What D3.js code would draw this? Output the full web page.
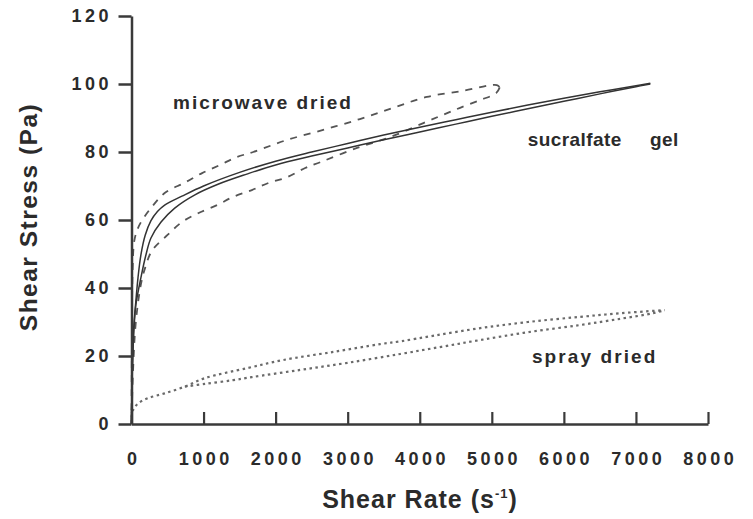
<!DOCTYPE html>
<html><head><meta charset="utf-8">
<script src="https://cdn.jsdelivr.net/npm/d3@7"></script>
<style>
body{margin:0;background:#fff;}
text{font-family:"Liberation Sans",Arial,Helvetica,sans-serif;font-weight:bold;fill:#2b2b2b;}
</style></head>
<body><svg id="c" width="753" height="519"></svg>
<script>
// ---- data ----
const xTicks = [0,1000,2000,3000,4000,5000,6000,7000,8000];
const yTicks = [0,20,40,60,80,100,120];

const gelA_x = [0,10,30,60,90,130,190,270,360,460,700,1000,1500,2000,2500,3000,3500,4000,4500,5000,5500,6000,6500,7000,7200];
const gelA_y = [0,15,28,36,43,49.7,55.5,59.8,62.5,64.4,67,70,74,77.3,80,82.5,85,87.3,89.5,91.7,93.8,95.8,97.7,99.5,100.2];
const gelB_x = [0,15,40,60,130,200,270,410,600,880,1200,1600,2000,2500,3000,3500,4000,4500,5000,5500,6000,6500,7000,7200];
const gelB_y = [0,18,30,35,43,49.7,54.7,59.4,63.5,67.4,70.5,73.5,76.2,78.8,81.2,83.6,85.9,88.2,90.5,92.7,94.9,97.1,99.2,100];

const mwUp_x = [0,5,15,40,90,150,270,465,740,980,1230,1460,1690,2150,2660,3170,3630,4100,4600,5070,5110];
const mwUp_y = [0,20,45,54,57.6,60,63.5,68,71,73.8,76.2,78.5,80,83.5,86.5,89.7,93,96.2,98,99.7,99];
const mwDown_x = [5110,5060,4840,4560,4330,4050,3590,3130,2620,2410,2160,1900,1670,1410,1190,925,700,500,285,190,130,60,20,0];
const mwDown_y = [99,97.3,95.3,93,91,88.5,84.4,81.2,77,75.3,72.6,70.9,68.8,66.8,64.4,62,59.4,55.6,51,46,41,30,15,0];

const spUp_x = [0,20,90,230,460,740,1020,1620,2100,2800,3450,3730,4200,4840,5500,6220,6800,7400];
const spUp_y = [2,4,6,7.6,9,11,13.5,16.5,18.8,21.2,23.5,24.3,26,28.2,30,31.5,32.6,33.5];
const spDown_x = [740,1020,1410,1670,2340,3000,3730,4300,4840,5500,6220,6800,7240,7400];
const spDown_y = [11,11.8,12.9,13.8,15.9,18,20.6,22.7,24.7,27,29.1,31,32.6,33.5];

const labels = ["microwave dried","sucralfate","gel","spray dried"];

// ---- chart ----
const svg = d3.select("#c");
const x = d3.scaleLinear().domain([0,8000]).range([131.5,708]);
const y = d3.scaleLinear().domain([0,120]).range([424,16]);
const axisColor = "#3a3a3a";

const zip = (xs,ys)=>xs.map((v,i)=>[v,ys[i]]);
const line = d3.line().x(d=>x(d[0])).y(d=>y(d[1])).curve(d3.curveCatmullRom.alpha(0.5));

// series
const series = [
  {d:zip(spUp_x,spUp_y), stroke:"#6a6a6a", w:2.2, dash:"2.5,3.5"},
  {d:zip(spDown_x,spDown_y), stroke:"#6a6a6a", w:2.2, dash:"2.5,3.5"},
  {d:zip(mwUp_x,mwUp_y), stroke:"#555", w:1.8, dash:"7,7"},
  {d:zip(mwDown_x,mwDown_y), stroke:"#555", w:1.8, dash:"7,7"},
  {d:zip(gelA_x,gelA_y), stroke:"#333", w:1.5, dash:null},
  {d:zip(gelB_x,gelB_y), stroke:"#333", w:1.5, dash:null}
];
svg.append("g").selectAll("path").data(series).join("path")
  .attr("d",s=>line(s.d)).attr("fill","none")
  .attr("stroke",s=>s.stroke).attr("stroke-width",s=>s.w)
  .attr("stroke-dasharray",s=>s.dash);

// y axis
const ya = svg.append("g").attr("transform",`translate(${x(0)},0)`)
  .call(d3.axisLeft(y).tickValues(yTicks).tickSize(13).tickSizeOuter(0).tickPadding(10).tickFormat(d3.format("d")));
ya.attr("font-family",null).attr("font-size",null);
ya.select(".domain").attr("stroke",axisColor).attr("stroke-width",2.5);
ya.selectAll(".tick line").attr("stroke",axisColor).attr("stroke-width",2.5);
ya.selectAll(".tick text").style("font-size","18px").style("font-weight","bold").style("letter-spacing","3.5px")
  .attr("dx","3.5px").attr("fill","#2b2b2b");

// x axis
const xa = svg.append("g").attr("transform",`translate(0,${y(0)})`)
  .call(d3.axisBottom(x).tickValues(xTicks).tickSize(-12).tickSizeOuter(0).tickPadding(28).tickFormat(d3.format("d")));
xa.attr("font-family",null).attr("font-size",null);
xa.select(".domain").attr("stroke",axisColor).attr("stroke-width",2.5);
xa.selectAll(".tick line").attr("stroke",axisColor).attr("stroke-width",2.2);
xa.selectAll(".tick text").style("font-size","18px").style("font-weight","bold").style("letter-spacing","3.5px")
  .attr("dx","1.7px").attr("fill","#2b2b2b");

// axis titles
svg.append("text").attr("x",420).attr("y",508).attr("text-anchor","middle")
  .style("font-size","25px").style("letter-spacing","1px")
  .html('Shear Rate (s<tspan dy="-10" style="font-size:13px">-1</tspan><tspan dy="10">)</tspan>');
svg.append("text").attr("transform","translate(37,217) rotate(-90)").attr("text-anchor","middle")
  .style("font-size","24.5px").style("letter-spacing","1.5px").text("Shear Stress (Pa)");

// annotations
const ann = [
  {t:labels[0], xv:576, yv:92.6, ls:2},
  {t:labels[1], xv:5500, yv:81.8, ls:0.4},
  {t:labels[2], xv:7195, yv:81.8, ls:0.4},
  {t:labels[3], xv:5557, yv:17.9, ls:2.1}
];
svg.append("g").selectAll("text").data(ann).join("text")
  .attr("x",d=>x(d.xv)).attr("y",d=>y(d.yv))
  .style("font-size","19px").style("letter-spacing",d=>d.ls+"px").text(d=>d.t);
</script></body></html>
